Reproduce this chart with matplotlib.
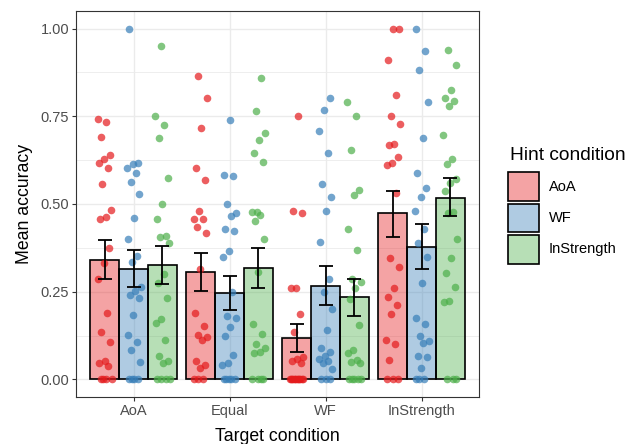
import matplotlib.pyplot as plt
from matplotlib.patches import Patch
import numpy as np

plt.rcParams['font.family'] = ['Liberation Sans', 'DejaVu Sans']

targets = ["AoA", "Equal", "WF", "InStrength"]
hints = ["AoA", "WF", "InStrength"]
colors = ["#E41A1C", "#377EB8", "#4DAF4A"]

# bar means and error bar limits, one entry per target condition
mean_aoa = [0.340, 0.306, 0.119, 0.473]
lo_aoa = [0.285, 0.252, 0.078, 0.407]
hi_aoa = [0.396, 0.360, 0.159, 0.538]

mean_wf = [0.315, 0.247, 0.266, 0.377]
lo_wf = [0.263, 0.199, 0.213, 0.315]
hi_wf = [0.370, 0.294, 0.322, 0.442]

mean_ins = [0.326, 0.318, 0.234, 0.518]
lo_ins = [0.272, 0.261, 0.182, 0.465]
hi_ins = [0.381, 0.376, 0.287, 0.573]

# individual participant accuracies (one list per target condition)
pts_aoa = [
    [0.741, 0.734, 0.690, 0.641, 0.627, 0.617, 0.602, 0.557, 0.482, 0.463, 0.456, 0.375,
     0.332, 0.287, 0.190, 0.136, 0.106, 0.052, 0.046, 0.038, 0, 0, 0, 0],
    [0.866, 0.802, 0.717, 0.602, 0.568, 0.481, 0.458, 0.456, 0.435, 0.418, 0.316, 0.190,
     0.152, 0.126, 0.121, 0.111, 0.052, 0.040, 0.033, 0, 0, 0],
    [0.752, 0.480, 0.475, 0.261, 0.260, 0.187, 0.136, 0.065, 0.059, 0.052, 0.047,
     0, 0, 0, 0, 0, 0, 0, 0, 0, 0, 0, 0],
    [1.0, 1.0, 0.909, 0.812, 0.752, 0.729, 0.670, 0.668, 0.633, 0.617, 0.611, 0.532, 0.347,
     0.320, 0.261, 0.236, 0.211, 0.187, 0.111, 0.100, 0.055, 0, 0, 0],
]
pts_wf = [
    [1.0, 0.617, 0.614, 0.603, 0.587, 0.563, 0.529, 0.461, 0.401, 0.353, 0.334, 0.264,
     0.252, 0.240, 0.233, 0.183, 0.126, 0.107, 0.083, 0.050, 0, 0, 0, 0],
    [0.739, 0.584, 0.579, 0.501, 0.473, 0.467, 0.429, 0.423, 0.366, 0.350, 0.249, 0.182,
     0.176, 0.150, 0.125, 0.071, 0.046, 0.040, 0, 0, 0, 0, 0],
    [0.801, 0.769, 0.708, 0.645, 0.557, 0.521, 0.481, 0.392, 0.285, 0.250, 0.201, 0.142,
     0.090, 0.078, 0.066, 0.059, 0.052, 0.046, 0.030, 0, 0, 0],
    [1.0, 0.935, 0.881, 0.792, 0.689, 0.589, 0.546, 0.520, 0.481, 0.430, 0.389, 0.348,
     0.274, 0.176, 0.157, 0.125, 0.109, 0.104, 0.066, 0.065, 0.033, 0, 0, 0],
]
pts_ins = [
    [0.950, 0.752, 0.724, 0.687, 0.573, 0.501, 0.456, 0.408, 0.406, 0.389, 0.301, 0.274,
     0.232, 0.173, 0.161, 0.111, 0.066, 0.052, 0.047, 0, 0, 0, 0],
    [0.859, 0.764, 0.701, 0.682, 0.645, 0.620, 0.478, 0.476, 0.470, 0.452, 0.401, 0.306,
     0.157, 0.130, 0.100, 0.090, 0.078, 0.076, 0, 0, 0, 0],
    [0.792, 0.752, 0.653, 0.541, 0.525, 0.429, 0.370, 0.287, 0.277, 0.261, 0.228, 0.155,
     0.083, 0.076, 0.055, 0.049, 0.046, 0, 0, 0, 0, 0],
    [0.938, 0.897, 0.824, 0.802, 0.793, 0.779, 0.698, 0.627, 0.613, 0.572, 0.560, 0.537,
     0.477, 0.473, 0.401, 0.347, 0.304, 0.264, 0.223, 0.222, 0, 0, 0],
]

means = [mean_aoa, mean_wf, mean_ins]
los = [lo_aoa, lo_wf, lo_ins]
his = [hi_aoa, hi_wf, hi_ins]
points = [pts_aoa, pts_wf, pts_ins]

fig = plt.figure(figsize=(6.31, 4.44), dpi=100)
ax = fig.add_axes([0.1204, 0.1059, 0.639, 0.8693])

x = np.arange(len(targets))
bw = 0.3
offs = [-0.3, 0.0, 0.3]

for h in range(3):
    xs = x + offs[h]
    ax.bar(xs, means[h], width=bw, color=colors[h], alpha=0.4, zorder=2)
    ax.bar(xs, means[h], width=bw, fill=False, edgecolor="black", linewidth=1.2, zorder=2.5)
    # jittered points (deterministic spread around the bar centre)
    for t in range(len(targets)):
        vals = np.array(points[h][t])
        k = np.arange(len(vals))
        jit = ((k * 0.618034 + 0.3 * t + 0.2 * h) % 1 - 0.5) * 0.15
        ax.scatter(xs[t] + jit, vals, s=30, color=colors[h], alpha=0.7,
                   linewidths=0, zorder=3)
    m = np.array(means[h])
    err = [m - np.array(los[h]), np.array(his[h]) - m]
    ax.errorbar(xs, m, yerr=err, fmt="none", ecolor="black", elinewidth=1.3,
                capsize=5, capthick=1.3, zorder=4)

ax.set_xlim(-0.6, 3.6)
ax.set_ylim(-0.05, 1.05)
ax.set_xticks(x)
ax.set_xticklabels(targets)
ax.set_yticks([0, 0.25, 0.5, 0.75, 1.0])
ax.set_yticklabels(["0.00", "0.25", "0.50", "0.75", "1.00"])
ax.set_yticks([0.125, 0.375, 0.625, 0.875], minor=True)
ax.grid(True, which="major", color="#EBEBEB", linewidth=1.0, zorder=0)
ax.grid(True, which="minor", axis="y", color="#EBEBEB", linewidth=0.6, zorder=0)
ax.set_axisbelow(True)
ax.tick_params(axis="both", which="major", colors="#333333", labelcolor="#4D4D4D",
               labelsize=10.5, length=3, width=0.8, pad=2)
ax.tick_params(axis="y", which="minor", length=0)
for sp in ax.spines.values():
    sp.set_color("#333333")
    sp.set_linewidth(0.8)

ax.set_xlabel("Target condition", fontsize=12.7, labelpad=7)
ax.set_ylabel("Mean accuracy", fontsize=12.7, labelpad=5)

# legend: title as separate text, keys stacked below it
fig.text(510.5 / 631, 1 - 160 / 444, "Hint condition", fontsize=13.8,
         ha="left", va="baseline")
handles = [Patch(facecolor=(*plt.matplotlib.colors.to_rgb(c), 0.4), edgecolor="black",
                 linewidth=1.2) for c in colors]
leg = fig.legend(handles, hints, loc="upper left",
                 bbox_to_anchor=(507.5 / 631, 1 - 172.5 / 444), frameon=False,
                 fontsize=10.5, handlelength=2.13, handleheight=2.68,
                 labelspacing=0.14, handletextpad=0.7, borderpad=0, borderaxespad=0)

fig.savefig("out.png", dpi=100)
